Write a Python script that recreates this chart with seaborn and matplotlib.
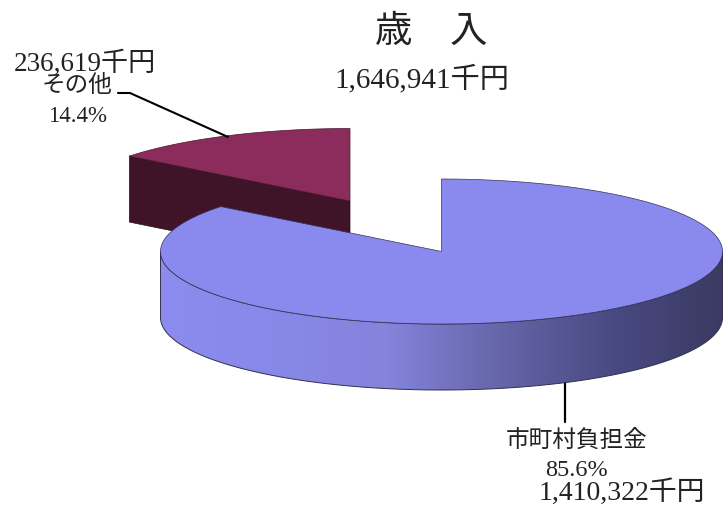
import numpy as np
import seaborn as sns
import matplotlib
matplotlib.use('Agg')
import matplotlib.pyplot as plt
from matplotlib.patches import Polygon
from matplotlib.colors import ListedColormap

sns.set_theme(style='white')
plt.rcParams['font.family'] = ['Liberation Serif', 'Noto Sans CJK JP']

categories = ['市町村負担金', 'その他']
amounts = [1410322, 236619]
title = '歳　入'
total = sum(amounts)

# pie shape, in pixels of the 723x507 picture
rx, ry, depth = 281, 72.5, 66
big_center = (441.5, 251.5)
small_center = (350, 201)

top_colors = ['#8a8aee', '#8c2c5c']
cut_color = '#401428'
wall_stops = ['#8c8cf0', '#8888e8', '#8484dc', '#6666aa', '#4a4a84', '#3a3a62']


def rim(center, start, end, n=200):
    # clockwise from 12 o'clock, angles in degrees
    t = np.radians(np.linspace(start, end, n))
    return np.column_stack([center[0] + rx * np.sin(t), center[1] - ry * np.cos(t)])


fig, ax = plt.subplots(figsize=(7.23, 5.07), dpi=100)
fig.subplots_adjust(0, 0, 1, 1)
ax.set_xlim(0, 723)
ax.set_ylim(507, 0)
ax.axis('off')

split = 360 * amounts[0] / total

# small slice, pulled out to the upper left
small_rim = rim(small_center, split, 360)
cut = np.array([small_rim[0], small_center])
cut_face = np.vstack([cut, cut[::-1] + [0, depth]])
ax.add_patch(Polygon(cut_face, fc=cut_color, ec='#2a0c1a', lw=0.5))
ax.add_patch(Polygon(np.vstack([small_center, small_rim]), fc=top_colors[1], ec='#4a1830', lw=0.5))

# big slice: outer wall with the shading, then the top
front = rim(big_center, 90, 270)
wall = np.vstack([front, front[::-1] + [0, depth]])
wall_patch = Polygon(wall, fc='none', ec='#30304e', lw=0.7, zorder=3)
ax.add_patch(wall_patch)
shade = ListedColormap(sns.blend_palette(wall_stops, 256))
img = ax.imshow(np.linspace(0, 1, 256)[None, :], cmap=shade, aspect='auto', zorder=2,
                extent=(big_center[0] - rx, big_center[0] + rx, 507, 0))
img.set_clip_path(Polygon(wall, transform=ax.transData))
ax.set_xlim(0, 723)
ax.set_ylim(507, 0)

big_rim = rim(big_center, 0, split, 400)
ax.add_patch(Polygon(np.vstack([big_center, big_rim]), fc=top_colors[0], ec='#33335a', lw=0.5, zorder=4))

# leader lines
ax.plot([118, 130, 228], [93, 93, 137], color='black', lw=1.5, zorder=1)
ax.plot([565, 565], [381, 422], color='black', lw=1.6, zorder=1)

ax.text(431, 33, title, fontsize=27, ha='center', va='center', color='#222222')
ax.text(421.5, 79, f'{total:,}千円', fontsize=21, ha='center', va='center', color='#222222')

ax.text(84.5, 64, f'{amounts[1]:,}千円', fontsize=19.5, ha='center', va='center', color='#222222')
ax.text(77, 86, categories[1], fontsize=17, ha='center', va='center', color='#222222')
ax.text(78, 117, f'{amounts[1] / total:.1%}', fontsize=16.5, ha='center', va='center', color='#222222')

ax.text(577, 441, categories[0], fontsize=17, ha='center', va='center', color='#222222')
ax.text(577, 470, f'{amounts[0] / total:.1%}', fontsize=17.5, ha='center', va='center', color='#222222')
ax.text(621.5, 493, f'{amounts[0]:,}千円', fontsize=20, ha='center', va='center', color='#222222')

fig.savefig('out.png', dpi=100)
